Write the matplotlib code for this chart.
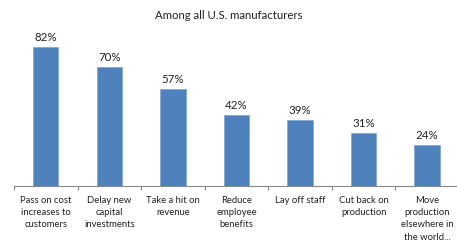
import matplotlib
matplotlib.use("Agg")
import matplotlib.pyplot as plt
import numpy as np

categories = ["Pass on cost\nincreases to\ncustomers", "Delay new\ncapital\ninvestments",
              "Take a hit on\nrevenue", "Reduce\nemployee\nbenefits", "Lay off staff",
              "Cut back on\nproduction", "Move\nproduction\nelsewhere in\nthe world..."]
values = [82, 70, 57, 42, 39, 31, 24]
title = "Among all U.S. manufacturers"

plt.rcParams['font.family'] = ['Lato', 'DejaVu Sans']
fig = plt.figure(figsize=(4.57, 2.43), dpi=100)
ax = fig.add_axes([14/457, 57/243, 445/457, 169.5/243])
x = np.arange(len(values))
ax.bar(x, values, width=0.4, color="#4F81BD", edgecolor="#7FA3D0", linewidth=0.5)
for xi, v in zip(x, values):
    ax.text(xi, v + 2.5, f"{v}%", ha="center", va="bottom", fontsize=8.3, color="#222222")
ax.set_xlim(-0.5, len(values) - 0.5)
ax.set_ylim(0, 100)
for s in ["top", "right", "left"]:
    ax.spines[s].set_visible(False)
ax.spines["bottom"].set_color("#888888")
ax.spines["bottom"].set_linewidth(0.8)
ax.set_yticks([])
ax.set_xticks(x)
ax.set_xticklabels(categories, fontsize=6.8, color="#222222", linespacing=1.47, va="top")
ax.tick_params(axis="x", which="major", length=0, pad=7)
ax.set_xticks(np.arange(-0.5, len(values)), minor=True)
ax.tick_params(axis="x", which="minor", length=3, color="#888888", width=0.8)
fig.text(0.5, 1 - 15/243, title, ha="center", va="center", fontsize=8.2, color="#222222")
fig.savefig("out.png", dpi=100)
